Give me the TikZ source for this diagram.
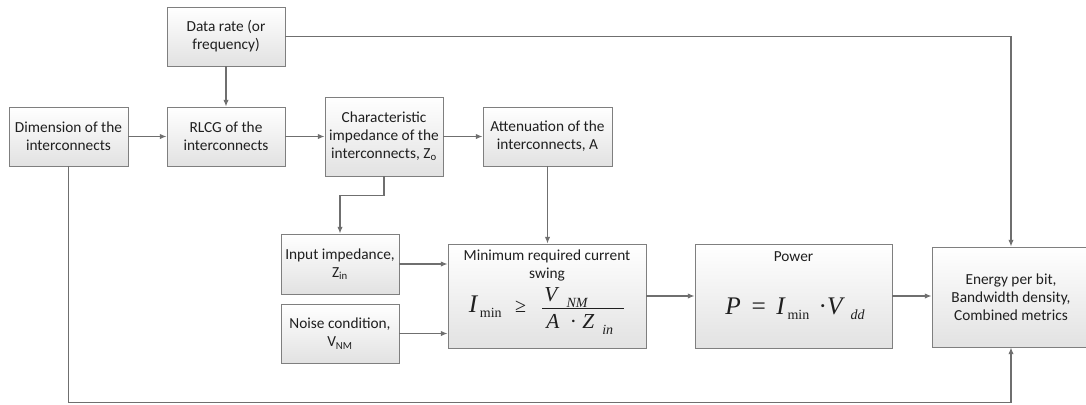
\documentclass[tikz,border=0pt]{standalone}
\usepackage{fontspec}
\setmainfont{Carlito}
\newfontfamily\eqfont{Liberation Serif}
\usetikzlibrary{arrows.meta,positioning,shadows,calc}
\definecolor{boxline}{HTML}{7F7F7F}
\definecolor{wiregray}{HTML}{6F6F6F}
\definecolor{boxbot}{HTML}{E2E2E2}
\newcommand\eqbig[1]{{\eqfont\fontsize{19}{19}\selectfont\itshape #1}}
\newcommand\eqmid[1]{{\eqfont\fontsize{16}{16}\selectfont\itshape #1}}
\newcommand\eqsub[2][]{\raisebox{-4pt}{\eqfont\fontsize{10.5}{10.5}\selectfont #1#2}}

\begin{document}
\begin{tikzpicture}[x=0.75pt,y=-0.75pt,
  blk/.style={draw=boxline, line width=0.7pt, top color=white, bottom color=boxbot,
    drop shadow={shadow xshift=1pt,shadow yshift=-1pt,opacity=0.25},
    text=black!88, align=center, inner sep=2pt, font=\fontsize{11.5}{13.5}\selectfont},
  txt/.style={text=black!88, align=center, inner sep=0pt, font=\fontsize{11.5}{13.5}\selectfont},
  wire/.style={draw=wiregray, line width=0.8pt, -{Latex[length=5pt,width=4pt]}},
  ]
  \useasboundingbox (0,0) rectangle (1086,404);

  % boxes
  \node[blk, minimum width=88.5pt, minimum height=44.25pt] (rate) at (226,36.5)
    {Data rate (or\\frequency)};
  \node[blk, minimum width=89.25pt, minimum height=44.25pt] (dim) at (68.5,136.5)
    {Dimension of the\\interconnects};
  \node[blk, minimum width=88.5pt, minimum height=44.25pt] (rlcg) at (226,136.5)
    {RLCG of the\\interconnects};
  \node[blk, minimum width=88.5pt, minimum height=59.25pt] (zo) at (384,136.5)
    {Characteristic\\impedance of the\\interconnects, Z\textsubscript{o}};
  \node[blk, minimum width=96.75pt, minimum height=44.25pt] (atten) at (547.5,136.5)
    {Attenuation of the\\interconnects, A};
  \node[blk, minimum width=88.5pt, minimum height=45pt] (zin) at (340,264)
    {Input impedance,\\Z\textsubscript{in}};
  \node[blk, minimum width=88.5pt, minimum height=44.25pt] (noise) at (340,333.5)
    {Noise condition,\\V\textsubscript{NM}};
  \node[blk, minimum width=148.5pt, minimum height=78pt] (imin) at (547,296) {};
  \node[blk, minimum width=147.75pt, minimum height=78pt] (power) at (793.5,296) {};
  \node[blk, minimum width=118.5pt, minimum height=75pt] (energy) at (1011,297)
    {Energy per bit,\\Bandwidth density,\\Combined metrics};

  % texts inside the two large boxes
  \node[txt] (imintop) at (547,265) {Minimum required current\\swing};
  \node[txt] (iminfml) at (547,311)
    {\eqbig{I}\hspace{2pt}\eqsub{min}\hspace{10pt}{\eqfont\fontsize{15}{15}\selectfont ≥}\hspace{11pt}%
     $\frac{\makebox[61pt][l]{\hspace{1.5pt}\eqmid{V}\hspace{7pt}\eqsub[\itshape]{NM}\rule[-4.5pt]{0pt}{4.5pt}}}%
           {\makebox[61pt][l]{\rule{0pt}{14.5pt}\hspace{3pt}\eqmid{A}\hspace{8pt}\eqmid{\upshape·}\hspace{4pt}\eqmid{Z}\hspace{6pt}\eqsub[\itshape]{in}}}$};
  \node[txt] (powertop) at (793.5,257) {Power};
  \node[txt] (powerfml) at (795,309)
    {\eqbig{P}\hspace{8pt}{\eqfont\fontsize{19}{19}\selectfont =}\hspace{8pt}\eqbig{I}\hspace{2pt}\eqsub{min}\hspace{7pt}%
     \eqbig{\upshape·}\eqbig{V}\hspace{6pt}\eqsub[\itshape]{dd}};

  % connectors
  \draw[wire] (rate) -- (rlcg);
  \draw[wire] (rate.east) -| (energy.north);
  \draw[wire] (dim) -- (rlcg);
  \draw[wire] (rlcg) -- (zo);
  \draw[wire] (zo) -- (atten);
  \draw[wire] (zo.south) -- ++(0,19) -| (zin.north);
  \draw[wire] (atten.south) -- (atten.south |- imin.north);
  \draw[wire] (zin.east) -- (zin.east -| imin.west);
  \draw[wire] (noise.east) -- (noise.east -| imin.west);
  \draw[wire] (imin) -- (power);
  \draw[wire] (power.east) -- (power.east -| energy.west);
  \draw[wire] (dim.south) -- ++(0,236) -| (energy.south);
\end{tikzpicture}
\end{document}
